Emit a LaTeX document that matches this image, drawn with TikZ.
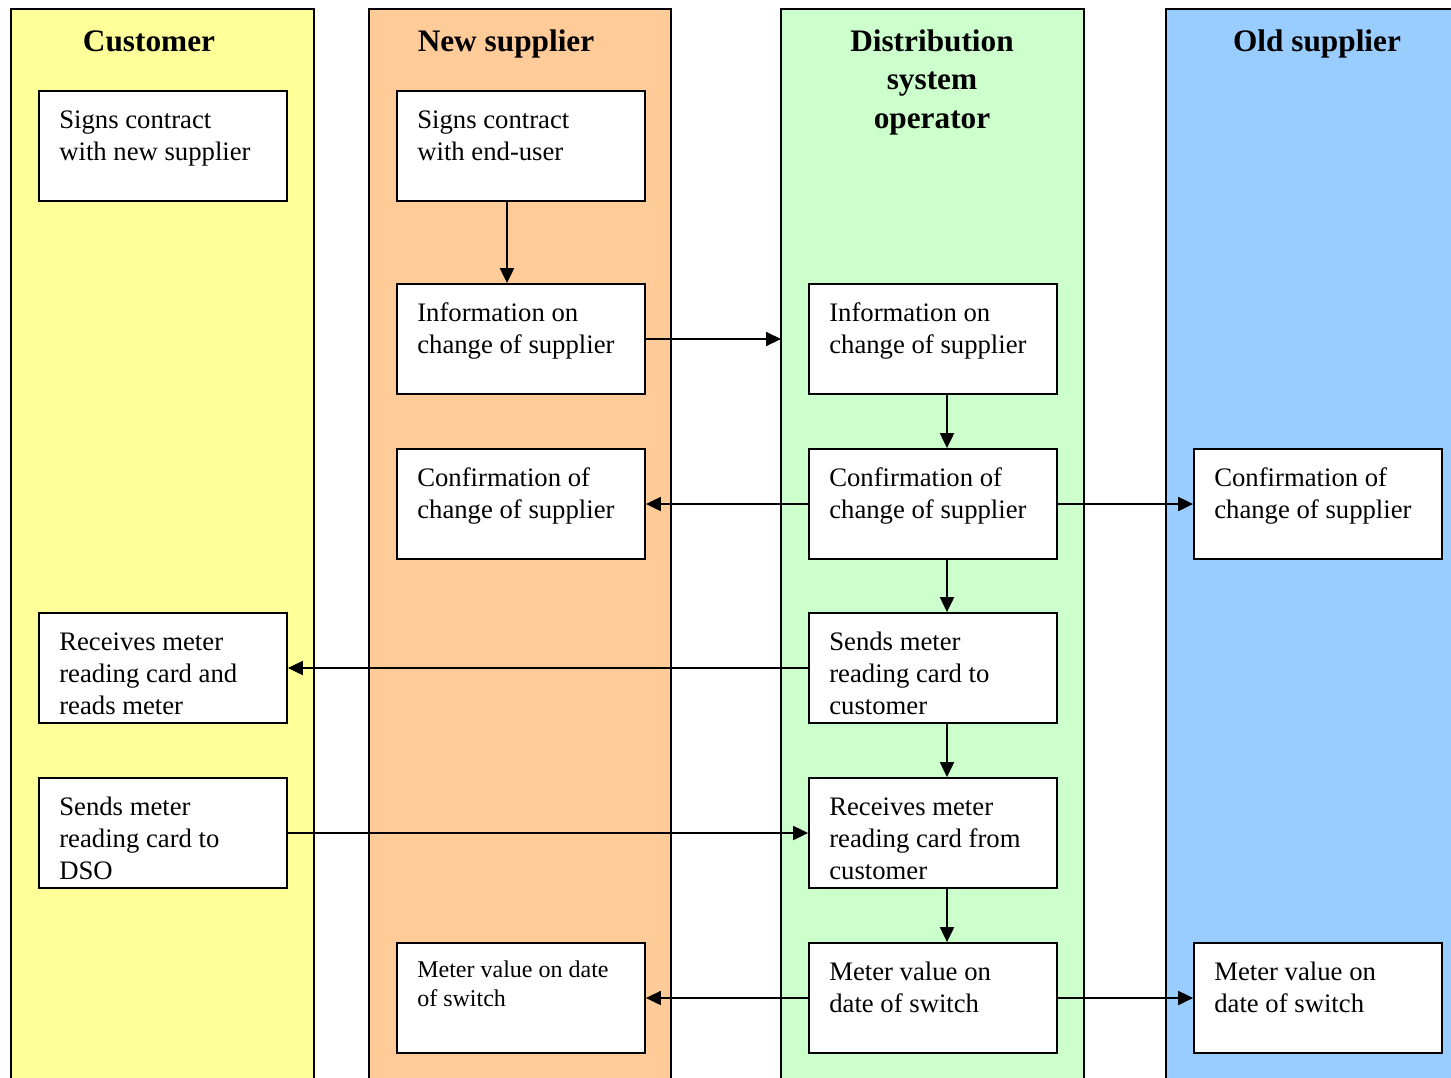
\documentclass[tikz,border=0pt]{standalone}
\usepackage{fontspec}
\setmainfont{Liberation Serif}
\usetikzlibrary{arrows.meta,calc}
\definecolor{laneY}{HTML}{FFFF99}
\definecolor{laneO}{HTML}{FFCC99}
\definecolor{laneG}{HTML}{CCFFCC}
\definecolor{laneB}{HTML}{99CCFF}
\newcommand\pbox[6]{%
  \node[procbox] (#1) at (#2+124,-#3-55) {};
  \node[#4] (#1-t) at ($(#1.north west)+(21,-#5)$) {\parbox[t]{225pt}{\raggedright #6}};}
\begin{document}
\begin{tikzpicture}[x=1pt,y=1pt,
  lane/.style={draw=black, line width=1.8pt},
  procbox/.style={draw=black, fill=white, line width=1.8pt, minimum width=248pt, minimum height=110pt, inner sep=0pt},
  boxtext/.style={anchor=base west, inner sep=0pt, font=\fontsize{26.7}{32}\selectfont},
  smalltext/.style={anchor=base west, inner sep=0pt, font=\fontsize{24}{29}\selectfont},
  head/.style={anchor=base, inner sep=0pt, font=\fontsize{31.3}{38.5}\selectfont\bfseries},
  flow/.style={line width=2pt, -{Triangle[length=15pt,width=14pt]}}]
\clip (0,0) rectangle (1451,-1077);
\fill[white] (0,0) rectangle (1451,-1077);
% lanes
\draw[lane, fill=laneY] (11,-9) rectangle (314,-1100);
\draw[lane, fill=laneO] (369,-9) rectangle (671,-1100);
\draw[lane, fill=laneG] (781,-9) rectangle (1084,-1100);
\draw[lane, fill=laneB] (1166,-9) rectangle (1470,-1100);
% headings
\node[head] (hC) at (149,-51) {Customer};
\node[head] (hN) at (506,-51) {New supplier};
\node[head] (hD) at (932,-51) {\parbox[t]{300pt}{\centering Distribution\\system\\operator}};
\node[head] (hO) at (1317,-51) {Old supplier};
% customer
\pbox{c1}{39}{91}{boxtext}{38}{Signs contract\\with new supplier}
\pbox{c2}{39}{613}{boxtext}{38}{Receives meter\\reading card and\\reads meter}
\pbox{c3}{39}{778}{boxtext}{38}{Sends meter\\reading card to\\DSO}
% new supplier
\pbox{n1}{397}{91}{boxtext}{38}{Signs contract\\with end-user}
\pbox{n2}{397}{284}{boxtext}{38}{Information on\\change of supplier}
\pbox{n3}{397}{449}{boxtext}{38}{Confirmation of\\change of supplier}
\pbox{n4}{397}{943}{smalltext}{35}{Meter value on date\\of switch}
% DSO
\pbox{d1}{809}{284}{boxtext}{38}{Information on\\change of supplier}
\pbox{d2}{809}{449}{boxtext}{38}{Confirmation of\\change of supplier}
\pbox{d3}{809}{613}{boxtext}{38}{Sends meter\\reading card to\\customer}
\pbox{d4}{809}{778}{boxtext}{38}{Receives meter\\reading card from\\customer}
\pbox{d5}{809}{943}{boxtext}{38}{Meter value on\\date of switch}
% old supplier
\pbox{o1}{1194}{449}{boxtext}{38}{Confirmation of\\change of supplier}
\pbox{o2}{1194}{943}{boxtext}{38}{Meter value on\\date of switch}
% connectors
\coordinate (dsoedge) at (781,-339);
\draw[flow] ($(n1.south)+(-14,0)$) -- ($(n2.north)+(-14,0)$);
\draw[flow] (n2.east) -- (dsoedge);
\draw[flow] ($(d1.south)+(14,0)$) -- ($(d2.north)+(14,0)$);
\draw[flow] (d2.west) -- (n3.east);
\draw[flow] (d2.east) -- (o1.west);
\draw[flow] ($(d2.south)+(14,0)$) -- ($(d3.north)+(14,0)$);
\draw[flow] (d3.west) -- (c2.east);
\draw[flow] ($(d3.south)+(14,0)$) -- ($(d4.north)+(14,0)$);
\draw[flow] (c3.east) -- (d4.west);
\draw[flow] ($(d4.south)+(14,0)$) -- ($(d5.north)+(14,0)$);
\draw[flow] (d5.west) -- (n4.east);
\draw[flow] (d5.east) -- (o2.west);
\end{tikzpicture}
\end{document}
